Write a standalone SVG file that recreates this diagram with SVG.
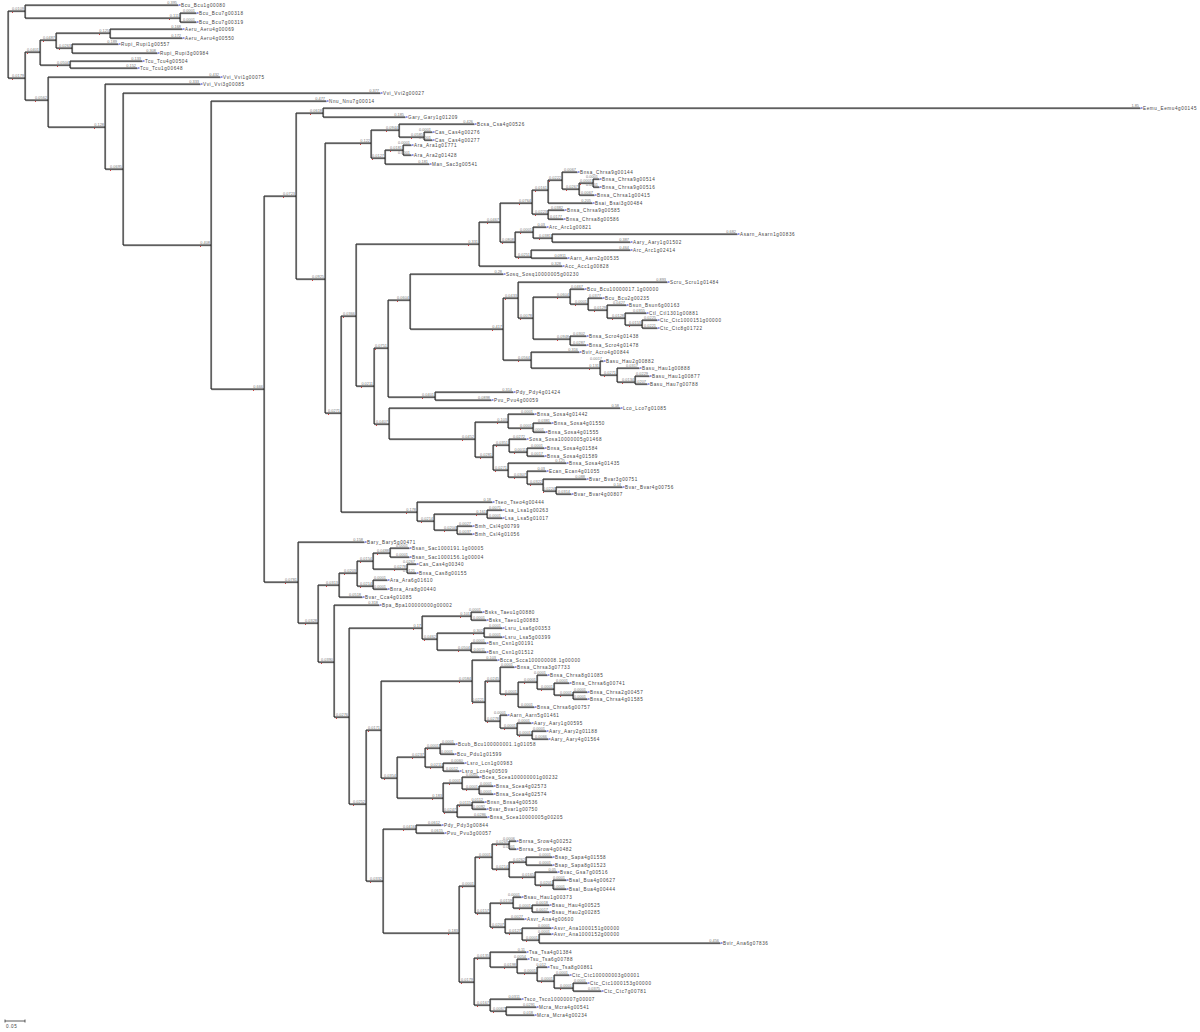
<svg xmlns="http://www.w3.org/2000/svg" xmlns:xlink="http://www.w3.org/1999/xlink" width="1200" height="1032" viewBox="0 0 1200 1032">
<style>
.e{fill:none;stroke:#1e1e1e;stroke-width:1}
.s{fill:none;stroke:#a0a0a0;stroke-width:1.1}
.lf{font-family:"Liberation Sans",Arial,sans-serif;font-size:4.6px;letter-spacing:.6px;fill:#444}
.bl{font-family:"Liberation Sans",Arial,sans-serif;font-size:3.9px;fill:#777;text-anchor:end}
.bm{stroke:#2233cc;stroke-width:1;fill:none}
.rd{fill:#d04040}
</style>
<defs>
<path id="tree" d="M8 11V78 M8 11H25 M25 5V18 M25 5H178 M25 18H180 M180 13V22 M180 13H196 M180 22H196
M8 78H25 M25 52V100
M25 52H40 M40 40V65 M40 40H56 M56 33V48 M56 33H110 M110 29V38 M110 29H182 M110 38H182 M56 48H72 M72 44V53 M72 44H118 M72 53H157 M40 65H70 M70 61V68 M70 61H142 M70 68H137
M25 100H48 M48 77V127 M48 77H220 M48 127H105 M105 84V169 M105 84H200 M105 169H123 M123 93V245 M123 93H380 M123 245H211 M211 101V389 M211 101H326 M211 389H264 M264 196V582
M264 196H296 M296 113V279 M296 113H323 M323 108V117 M323 108H1140 M323 117H405
M296 279H325 M325 143V413
M325 143H371 M371 130V158 M371 130H399 M399 124V137 M399 124H474 M399 137H424 M424 132V140 M424 132H432 M424 140H432 M371 158H385 M385 150V164 M385 150H403 M403 145V155 M403 145H411 M403 155H411 M385 164H429
M325 413H341 M341 316V512
M341 316H356 M356 244V386
M356 244H479 M479 222V266 M479 222H500 M500 203V242 M500 203H532 M532 190V214 M532 190H548 M548 180V203 M548 180H562 M562 172V189 M562 172H577 M562 189H579 M579 183V195 M579 183H593 M593 179V187 M593 179H599 M593 187H599 M579 195H594 M548 203H592 M532 214H548 M548 210V219 M548 210H564 M548 219H563
M500 242H515 M515 232V257 M515 232H533 M533 227V238 M533 227H546 M533 238H552 M552 234V242 M552 234H737 M552 242H630 M515 257H531 M531 250V258 M531 250H630 M531 258H567 M479 266H562
M356 386H374 M374 348V424
M374 348H388 M388 300V397 M388 300H410 M410 274V329 M410 274H503 M410 329H503 M503 298V360
M503 298H518 M518 282V318 M518 282H667 M518 318H533 M533 297V339 M533 297H570 M570 289V304 M570 289H584 M570 304H588 M588 298V310 M588 298H602 M588 310H607 M607 305V318 M607 305H626 M607 318H625 M625 313V325 M625 313H646 M625 325H642 M642 320V328 M642 320H657 M642 328H657 M533 339H570 M570 336V345 M570 336H586 M570 345H586
M503 360H531 M531 352V368 M531 352H579 M531 368H600 M600 361V375 M600 361H603 M600 375H617 M617 368V382 M617 368H639 M617 382H635 M635 376V384 M635 376H649 M635 384H647
M388 397H435 M435 392V400 M435 392H513 M435 400H491
M374 424H389 M389 408V439 M389 408H620 M389 439H475 M475 422V457 M475 422H508 M508 414V428 M508 414H534 M508 428H533 M533 423V432 M533 423H551 M533 432H545
M475 457H493 M493 445V470 M493 445H509 M509 439V452 M509 439H526 M509 452H527 M527 448V456 M527 448H544 M527 456H544 M493 470H508 M508 463V477 M508 463H566 M508 477H527 M527 471V484 M527 471H546 M527 484H543 M543 479V491 M543 479H586 M543 491H556 M556 487V494 M556 487H622 M556 494H571
M341 512H417 M417 502V521 M417 502H492 M417 521H434 M434 514V530 M434 514H487 M487 510V518 M487 510H502 M487 518H502 M434 530H457 M457 526V534 M457 526H472 M457 534H472
M264 582H298 M298 542V623 M298 542H364 M298 623H318 M318 585V662
M318 585H339 M339 573V597 M339 573H357 M357 561V586 M357 561H373 M373 553V569 M373 553H390 M390 548V557 M390 548H409 M390 557H409 M373 569H407 M407 564V573 M407 564H416 M407 573H416 M357 586H373 M373 580V589 M373 580H387 M373 589H387 M339 597H362
M318 662H334 M334 605V717 M334 605H379 M334 717H349 M349 628V804
M349 628H422 M422 616V639 M422 616H471 M471 612V620 M471 612H482 M471 620H486 M422 639H437 M437 633V650 M437 633H484 M484 628V637 M484 628H502 M484 637H502 M437 650H471 M471 643V652 M471 643H486 M471 652H486
M349 804H366 M366 730V881
M366 730H381 M381 681V778 M381 681H472 M472 660V702 M472 660H497 M472 702H485 M485 681V721 M485 681H500 M500 667V694 M500 667H514 M500 694H518 M518 682V707 M518 682H537 M537 675V689 M537 675H547 M537 689H554 M554 683V695 M554 683H569 M554 695H573 M573 692V699 M573 692H587 M573 699H587 M518 707H534 M485 721H500 M500 715V728 M500 715H507 M500 728H517 M517 723V735 M517 723H531 M517 735H532 M532 731V739 M532 731H546 M532 739H548
M381 778H397 M397 757V798 M397 757H425 M425 748V767 M425 748H440 M440 744V754 M440 744H455 M440 754H454 M425 767H443 M443 763V771 M443 763H464 M443 771H459 M397 798H443 M443 783V812 M443 783H462 M462 777V789 M462 777H479 M462 789H479 M479 786V794 M479 786H493 M479 794H493 M443 812H457 M457 805V817 M457 805H472 M472 802V809 M472 802H484 M472 809H486 M457 817H487
M366 881H383 M383 829V933 M383 829H416 M416 825V833 M416 825H441 M416 833H444 M383 933H459 M459 886V982
M459 886H475 M475 857V913 M475 857H492 M492 844V869 M492 844H509 M509 841V849 M509 841H516 M509 849H516 M492 869H509 M509 862V877 M509 862H526 M526 857V865 M526 857H552 M526 865H552 M509 877H535 M535 872V885 M535 872H557 M535 885H553 M553 880V889 M553 880H566 M553 889H566
M475 913H490 M490 903V927 M490 903H513 M513 897V908 M513 897H521 M513 908H532 M532 905V912 M532 905H549 M532 912H549 M490 927H505 M505 919V933 M505 919H524 M505 933H522 M522 928V940 M522 928H551 M522 940H539 M539 934V943 M539 934H551 M539 943H720
M459 982H474 M474 958V1005 M474 958H490 M490 952V967 M490 952H526 M490 967H517 M517 959V973 M517 959H527 M517 973H537 M537 967V981 M537 967H547 M537 981H554 M554 975V988 M554 975H569 M554 988H573 M573 983V991 M573 983H587 M573 991H601 M474 1005H490 M490 999V1011 M490 999H521 M490 1011H506 M506 1007V1015 M506 1007H536 M506 1015H534"/>
</defs>
<rect width="1200" height="1032" fill="#ffffff"/>
<g id="connectors">
<use xlink:href="#tree" href="#tree" class="s" transform="translate(0.6,0.6)"/>
<use xlink:href="#tree" href="#tree" class="e"/>
</g>
<g id="node-dots" class="rd"><path d="M12 12h1v1h-1z M169 19h1v1h-1z M12 79h1v1h-1z M27 53h1v1h-1z M43 41h1v1h-1z M99 34h1v1h-1z M59 49h1v1h-1z M57 66h1v1h-1z M35 101h1v1h-1z M94 128h1v1h-1z M110 170h1v1h-1z M200 246h1v1h-1z M253 390h1v1h-1z M283 197h1v1h-1z M310 114h1v1h-1z M312 280h1v1h-1z M360 144h1v1h-1z M386 131h1v1h-1z M411 138h1v1h-1z M372 159h1v1h-1z M390 151h1v1h-1z M328 414h1v1h-1z M343 317h1v1h-1z M468 245h1v1h-1z M487 223h1v1h-1z M519 204h1v1h-1z M535 191h1v1h-1z M549 181h1v1h-1z M566 190h1v1h-1z M580 184h1v1h-1z M535 215h1v1h-1z M502 243h1v1h-1z M520 233h1v1h-1z M539 239h1v1h-1z M518 258h1v1h-1z M361 387h1v1h-1z M375 349h1v1h-1z M397 301h1v1h-1z M492 330h1v1h-1z M505 299h1v1h-1z M520 319h1v1h-1z M557 298h1v1h-1z M575 305h1v1h-1z M594 311h1v1h-1z M612 319h1v1h-1z M629 326h1v1h-1z M557 340h1v1h-1z M518 361h1v1h-1z M589 369h1v1h-1z M604 376h1v1h-1z M622 383h1v1h-1z M422 398h1v1h-1z M376 425h1v1h-1z M462 440h1v1h-1z M497 423h1v1h-1z M520 429h1v1h-1z M480 458h1v1h-1z M496 446h1v1h-1z M514 453h1v1h-1z M495 471h1v1h-1z M514 478h1v1h-1z M530 485h1v1h-1z M543 492h1v1h-1z M406 513h1v1h-1z M421 522h1v1h-1z M476 515h1v1h-1z M444 531h1v1h-1z M285 583h1v1h-1z M305 624h1v1h-1z M326 586h1v1h-1z M344 574h1v1h-1z M360 562h1v1h-1z M377 554h1v1h-1z M394 570h1v1h-1z M360 587h1v1h-1z M321 663h1v1h-1z M336 718h1v1h-1z M413 629h1v1h-1z M460 617h1v1h-1z M424 640h1v1h-1z M473 634h1v1h-1z M458 651h1v1h-1z M353 805h1v1h-1z M368 731h1v1h-1z M459 682h1v1h-1z M472 703h1v1h-1z M487 682h1v1h-1z M505 695h1v1h-1z M524 683h1v1h-1z M541 690h1v1h-1z M560 696h1v1h-1z M487 722h1v1h-1z M504 729h1v1h-1z M519 736h1v1h-1z M384 779h1v1h-1z M412 758h1v1h-1z M427 749h1v1h-1z M430 768h1v1h-1z M432 799h1v1h-1z M449 784h1v1h-1z M466 790h1v1h-1z M444 813h1v1h-1z M459 806h1v1h-1z M370 882h1v1h-1z M403 830h1v1h-1z M448 934h1v1h-1z M462 887h1v1h-1z M479 858h1v1h-1z M496 845h1v1h-1z M496 870h1v1h-1z M513 863h1v1h-1z M522 878h1v1h-1z M540 886h1v1h-1z M477 914h1v1h-1z M500 904h1v1h-1z M519 909h1v1h-1z M492 928h1v1h-1z M509 934h1v1h-1z M526 941h1v1h-1z M461 983h1v1h-1z M477 959h1v1h-1z M504 968h1v1h-1z M524 974h1v1h-1z M541 982h1v1h-1z M560 989h1v1h-1z M477 1006h1v1h-1z M493 1012h1v1h-1z"/></g>
<g id="branch-labels" class="bl">
<text x="24" y="10.2">0.0109</text><text x="179" y="17.2">0.111</text><text x="24" y="77.2">0.0179</text><text x="39" y="51.2">0.0401</text><text x="55" y="39.2">0.0487</text><text x="109" y="32.2">0.125</text><text x="71" y="47.2">0.0263</text><text x="69" y="64.2">0.0504</text><text x="47" y="99.2">0.0562</text><text x="104" y="126.2">0.128</text><text x="122" y="168.2">0.0695</text><text x="210" y="244.2">0.408</text><text x="263" y="388.2">0.666</text><text x="295" y="195.2">0.0723</text><text x="322" y="112.2">0.0618</text><text x="324" y="278.2">0.0925</text><text x="370" y="142.2">0.122</text><text x="398" y="129.2">0.0944</text><text x="423" y="136.2">0.0585</text><text x="384" y="157.2">0.0127</text><text x="402" y="149.2">0.0181</text><text x="340" y="412.2">0.0271</text><text x="355" y="315.2">0.0366</text><text x="478" y="243.2">0.331</text><text x="499" y="221.2">0.0467</text><text x="531" y="202.2">0.0764</text><text x="547" y="189.2">0.0161</text><text x="561" y="179.2">0.0222</text><text x="578" y="188.2">0.0267</text><text x="592" y="182.2">0.0001</text><text x="547" y="213.2">0.0223</text><text x="514" y="241.2">0.0808</text><text x="532" y="231.2">0.0001</text><text x="551" y="237.2">0.0381</text><text x="530" y="256.2">0.0251</text><text x="373" y="385.2">0.0211</text><text x="387" y="347.2">0.0751</text><text x="409" y="299.2">0.0604</text><text x="502" y="328.2">0.417</text><text x="517" y="297.2">0.0433</text><text x="532" y="317.2">0.0078</text><text x="569" y="296.2">0.0604</text><text x="587" y="303.2">0.0001</text><text x="606" y="309.2">0.0129</text><text x="624" y="317.2">0.0128</text><text x="641" y="324.2">0.0153</text><text x="569" y="338.2">0.0948</text><text x="530" y="359.2">0.0564</text><text x="599" y="367.2">0.131</text><text x="616" y="374.2">0.0271</text><text x="634" y="381.2">0.0134</text><text x="434" y="396.2">0.0401</text><text x="388" y="423.2">0.0407</text><text x="474" y="438.2">0.0452</text><text x="507" y="421.2">0.103</text><text x="532" y="427.2">0.0001</text><text x="492" y="456.2">0.0281</text><text x="508" y="444.2">0.0351</text><text x="526" y="451.2">0.0011</text><text x="507" y="469.2">0.0271</text><text x="526" y="476.2">0.0307</text><text x="542" y="483.2">0.0322</text><text x="555" y="490.2">0.0224</text><text x="416" y="511.2">0.178</text><text x="433" y="520.2">0.0214</text><text x="486" y="513.2">0.161</text><text x="456" y="529.2">0.0204</text><text x="297" y="581.2">0.0781</text><text x="317" y="622.2">0.0328</text><text x="338" y="584.2">0.0313</text><text x="356" y="572.2">0.0203</text><text x="372" y="560.2">0.0154</text><text x="389" y="552.2">0.0488</text><text x="406" y="568.2">0.0278</text><text x="372" y="585.2">0.0214</text><text x="333" y="661.2">0.0390</text><text x="348" y="716.2">0.0276</text><text x="421" y="627.2">0.17</text><text x="470" y="615.2">0.101</text><text x="436" y="638.2">0.0462</text><text x="483" y="632.2">0.302</text><text x="470" y="649.2">0.0504</text><text x="365" y="803.2">0.0252</text><text x="380" y="729.2">0.0171</text><text x="471" y="680.2">0.0584</text><text x="484" y="701.2">0.0221</text><text x="499" y="680.2">0.0245</text><text x="517" y="693.2">0.0001</text><text x="536" y="681.2">0.0001</text><text x="553" y="688.2">0.0001</text><text x="572" y="694.2">0.0001</text><text x="499" y="720.2">0.0278</text><text x="516" y="727.2">0.0001</text><text x="531" y="734.2">0.0001</text><text x="396" y="777.2">0.0354</text><text x="424" y="756.2">0.0237</text><text x="439" y="747.2">0.0001</text><text x="442" y="766.2">0.0211</text><text x="442" y="797.2">0.183</text><text x="461" y="782.2">0.0001</text><text x="478" y="788.2">0.0001</text><text x="456" y="811.2">0.0247</text><text x="471" y="804.2">0.0115</text><text x="382" y="880.2">0.0332</text><text x="415" y="828.2">0.0416</text><text x="458" y="932.2">0.183</text><text x="474" y="885.2">0.0001</text><text x="491" y="856.2">0.0001</text><text x="508" y="843.2">0.0269</text><text x="508" y="868.2">0.0214</text><text x="525" y="861.2">0.0262</text><text x="534" y="876.2">0.0165</text><text x="552" y="884.2">0.0201</text><text x="489" y="912.2">0.0157</text><text x="512" y="902.2">0.0159</text><text x="531" y="907.2">0.0001</text><text x="504" y="926.2">0.0207</text><text x="521" y="932.2">0.0127</text><text x="538" y="939.2">0.0001</text><text x="473" y="981.2">0.0179</text><text x="489" y="957.2">0.0135</text><text x="516" y="966.2">0.0198</text><text x="536" y="972.2">0.0001</text><text x="553" y="980.2">0.0001</text><text x="572" y="987.2">0.0001</text><text x="489" y="1004.2">0.0167</text><text x="505" y="1010.2">0.0067</text>
</g>
<g id="leaves">
<g id="t1"><text class="bl" x="177" y="4.2">0.395</text><path class="bm" d="M178.5 5h2"/><text class="lf" x="181" y="6.7">Bcu_Bcu1g00080</text></g>
<g id="t2"><text class="bl" x="195" y="12.2">0.0001</text><path class="bm" d="M196.5 13h2"/><text class="lf" x="199" y="14.7">Bcu_Bcu7g00318</text></g>
<g id="t3"><text class="bl" x="195" y="21.2">0.0001</text><path class="bm" d="M196.5 22h2"/><text class="lf" x="199" y="23.7">Bcu_Bcu7g00319</text></g>
<g id="t4"><text class="bl" x="181" y="28.2">0.168</text><path class="bm" d="M182.5 29h2"/><text class="lf" x="185" y="30.7">Aeru_Aeru4g00069</text></g>
<g id="t5"><text class="bl" x="181" y="37.2">0.172</text><path class="bm" d="M182.5 38h2"/><text class="lf" x="185" y="39.7">Aeru_Aeru4g00550</text></g>
<g id="t6"><text class="bl" x="117" y="43.2">0.189</text><path class="bm" d="M118.5 44h2"/><text class="lf" x="121" y="45.7">Rupi_Rupi1g00557</text></g>
<g id="t7"><text class="bl" x="156" y="52.2">0.308</text><path class="bm" d="M157.5 53h2"/><text class="lf" x="160" y="54.7">Rupi_Rupi3g00984</text></g>
<g id="t8"><text class="bl" x="141" y="60.2">0.133</text><path class="bm" d="M142.5 61h2"/><text class="lf" x="145" y="62.7">Tcu_Tcu4g00504</text></g>
<g id="t9"><text class="bl" x="136" y="67.2">0.152</text><path class="bm" d="M137.5 68h2"/><text class="lf" x="140" y="69.7">Tcu_Tcu1g00648</text></g>
<g id="t10"><text class="bl" x="219" y="76.2">0.432</text><path class="bm" d="M220.5 77h2"/><text class="lf" x="223" y="78.7">Vvi_Vvi1g00075</text></g>
<g id="t11"><text class="bl" x="199" y="83.2">0.333</text><path class="bm" d="M200.5 84h2"/><text class="lf" x="203" y="85.7">Vvi_Vvi3g00085</text></g>
<g id="t12"><text class="bl" x="379" y="92.2">0.377</text><path class="bm" d="M380.5 93h2"/><text class="lf" x="383" y="94.7">Vvi_Vvi2g00027</text></g>
<g id="t13"><text class="bl" x="325" y="100.2">0.477</text><path class="bm" d="M326.5 101h2"/><text class="lf" x="329" y="102.7">Nnu_Nnu7g00014</text></g>
<g id="t14"><text class="bl" x="1139" y="107.2">1.85</text><path class="bm" d="M1140.5 108h2"/><text class="lf" x="1143" y="109.7">Eemu_Eemu4g00145</text></g>
<g id="t15"><text class="bl" x="404" y="116.2">0.185</text><path class="bm" d="M405.5 117h2"/><text class="lf" x="408" y="118.7">Gary_Gary1g01209</text></g>
<g id="t16"><text class="bl" x="473" y="123.2">0.426</text><path class="bm" d="M474.5 124h2"/><text class="lf" x="477" y="125.7">Bcsa_Csa4g00526</text></g>
<g id="t17"><text class="bl" x="431" y="131.2">0.0001</text><path class="bm" d="M432.5 132h2"/><text class="lf" x="435" y="133.7">Cas_Cas4g00276</text></g>
<g id="t18"><text class="bl" x="431" y="139.2">0.0001</text><path class="bm" d="M432.5 140h2"/><text class="lf" x="435" y="141.7">Cas_Cas4g00277</text></g>
<g id="t19"><text class="bl" x="410" y="144.2">0.0001</text><path class="bm" d="M411.5 145h2"/><text class="lf" x="414" y="146.7">Ara_Ara1g01771</text></g>
<g id="t20"><text class="bl" x="410" y="154.2">0.0001</text><path class="bm" d="M411.5 155h2"/><text class="lf" x="414" y="156.7">Ara_Ara2g01428</text></g>
<g id="t21"><text class="bl" x="428" y="163.2">0.181</text><path class="bm" d="M429.5 164h2"/><text class="lf" x="432" y="165.7">Man_Sac3g00541</text></g>
<g id="t22"><text class="bl" x="576" y="171.2">0.0067</text><path class="bm" d="M577.5 172h2"/><text class="lf" x="580" y="173.7">Bnsa_Chrsa9g00144</text></g>
<g id="t23"><text class="bl" x="598" y="178.2">0.0001</text><path class="bm" d="M599.5 179h2"/><text class="lf" x="602" y="180.7">Bnsa_Chrsa9g00514</text></g>
<g id="t24"><text class="bl" x="598" y="186.2">0.0001</text><path class="bm" d="M599.5 187h2"/><text class="lf" x="602" y="188.7">Bnsa_Chrsa9g00516</text></g>
<g id="t25"><text class="bl" x="593" y="194.2">0.0067</text><path class="bm" d="M594.5 195h2"/><text class="lf" x="597" y="196.7">Bnsa_Chrsa1g00415</text></g>
<g id="t26"><text class="bl" x="591" y="202.2">0.205</text><path class="bm" d="M592.5 203h2"/><text class="lf" x="595" y="204.7">Bsai_Bsai3g00484</text></g>
<g id="t27"><text class="bl" x="563" y="209.2">0.0382</text><path class="bm" d="M564.5 210h2"/><text class="lf" x="567" y="211.7">Bnsa_Chrsa9g00585</text></g>
<g id="t28"><text class="bl" x="562" y="218.2">0.0177</text><path class="bm" d="M563.5 219h2"/><text class="lf" x="566" y="220.7">Bnsa_Chrsa8g00586</text></g>
<g id="t29"><text class="bl" x="545" y="226.2">0.03</text><path class="bm" d="M546.5 227h2"/><text class="lf" x="549" y="228.7">Arc_Arc1g00821</text></g>
<g id="t30"><text class="bl" x="736" y="233.2">0.682</text><path class="bm" d="M737.5 234h2"/><text class="lf" x="740" y="235.7">Asarn_Asarn1g00836</text></g>
<g id="t31"><text class="bl" x="629" y="241.2">0.387</text><path class="bm" d="M630.5 242h2"/><text class="lf" x="633" y="243.7">Aary_Aary1g01502</text></g>
<g id="t32"><text class="bl" x="629" y="249.2">0.464</text><path class="bm" d="M630.5 250h2"/><text class="lf" x="633" y="251.7">Arc_Arc1g02414</text></g>
<g id="t33"><text class="bl" x="566" y="257.2">0.0911</text><path class="bm" d="M567.5 258h2"/><text class="lf" x="570" y="259.7">Aarn_Aarn2g00535</text></g>
<g id="t34"><text class="bl" x="561" y="265.2">0.328</text><path class="bm" d="M562.5 266h2"/><text class="lf" x="565" y="267.7">Acc_Acc1g00828</text></g>
<g id="t35"><text class="bl" x="502" y="273.2">0.28</text><path class="bm" d="M503.5 274h2"/><text class="lf" x="506" y="275.7">Sosq_Sosq10000005g00230</text></g>
<g id="t36"><text class="bl" x="666" y="281.2">0.893</text><path class="bm" d="M667.5 282h2"/><text class="lf" x="670" y="283.7">Scru_Scru1g01484</text></g>
<g id="t37"><text class="bl" x="583" y="288.2">0.0467</text><path class="bm" d="M584.5 289h2"/><text class="lf" x="587" y="290.7">Bcu_Bcu10000017.1g00000</text></g>
<g id="t38"><text class="bl" x="601" y="297.2">0.0377</text><path class="bm" d="M602.5 298h2"/><text class="lf" x="605" y="299.7">Bcu_Bcu2g00235</text></g>
<g id="t39"><text class="bl" x="625" y="304.2">0.0427</text><path class="bm" d="M626.5 305h2"/><text class="lf" x="629" y="306.7">Bsun_Bsun6g00163</text></g>
<g id="t40"><text class="bl" x="645" y="312.2">0.0355</text><path class="bm" d="M646.5 313h2"/><text class="lf" x="649" y="314.7">Ctl_Ctl1301g00881</text></g>
<g id="t41"><text class="bl" x="656" y="319.2">0.0225</text><path class="bm" d="M657.5 320h2"/><text class="lf" x="660" y="321.7">Ctc_Ctc1000151g00000</text></g>
<g id="t42"><text class="bl" x="656" y="327.2">0.0221</text><path class="bm" d="M657.5 328h2"/><text class="lf" x="660" y="329.7">Ctc_Ctc8g01722</text></g>
<g id="t43"><text class="bl" x="585" y="335.2">0.0302</text><path class="bm" d="M586.5 336h2"/><text class="lf" x="589" y="337.7">Bnsa_Scro4g01438</text></g>
<g id="t44"><text class="bl" x="585" y="344.2">0.0287</text><path class="bm" d="M586.5 345h2"/><text class="lf" x="589" y="346.7">Bnsa_Scro4g01478</text></g>
<g id="t45"><text class="bl" x="578" y="351.2">0.316</text><path class="bm" d="M579.5 352h2"/><text class="lf" x="582" y="353.7">Bvir_Acro4g00844</text></g>
<g id="t46"><text class="bl" x="602" y="360.2">0.0017</text><path class="bm" d="M603.5 361h2"/><text class="lf" x="606" y="362.7">Basu_Hau2g00882</text></g>
<g id="t47"><text class="bl" x="638" y="367.2">0.0317</text><path class="bm" d="M639.5 368h2"/><text class="lf" x="642" y="369.7">Basu_Hau1g00888</text></g>
<g id="t48"><text class="bl" x="648" y="375.2">0.0229</text><path class="bm" d="M649.5 376h2"/><text class="lf" x="652" y="377.7">Basu_Hau1g00877</text></g>
<g id="t49"><text class="bl" x="646" y="383.2">0.0207</text><path class="bm" d="M647.5 384h2"/><text class="lf" x="650" y="385.7">Basu_Hau7g00788</text></g>
<g id="t50"><text class="bl" x="512" y="391.2">0.314</text><path class="bm" d="M513.5 392h2"/><text class="lf" x="516" y="393.7">Pdy_Pdy4g01424</text></g>
<g id="t51"><text class="bl" x="490" y="399.2">0.0898</text><path class="bm" d="M491.5 400h2"/><text class="lf" x="494" y="401.7">Pvu_Pvu4g00059</text></g>
<g id="t52"><text class="bl" x="619" y="407.2">0.58</text><path class="bm" d="M620.5 408h2"/><text class="lf" x="623" y="409.7">Lco_Lco7g01085</text></g>
<g id="t53"><text class="bl" x="533" y="413.2">0.0001</text><path class="bm" d="M534.5 414h2"/><text class="lf" x="537" y="415.7">Bnsa_Sosa4g01442</text></g>
<g id="t54"><text class="bl" x="550" y="422.2">0.0381</text><path class="bm" d="M551.5 423h2"/><text class="lf" x="554" y="424.7">Bnsa_Sosa4g01550</text></g>
<g id="t55"><text class="bl" x="544" y="431.2">0.0001</text><path class="bm" d="M545.5 432h2"/><text class="lf" x="548" y="433.7">Bnsa_Sosa4g01555</text></g>
<g id="t56"><text class="bl" x="525" y="438.2">0.0272</text><path class="bm" d="M526.5 439h2"/><text class="lf" x="529" y="440.7">Sosa_Sosa10000005g01468</text></g>
<g id="t57"><text class="bl" x="543" y="447.2">0.0001</text><path class="bm" d="M544.5 448h2"/><text class="lf" x="547" y="449.7">Bnsa_Sosa4g01584</text></g>
<g id="t58"><text class="bl" x="543" y="455.2">0.0017</text><path class="bm" d="M544.5 456h2"/><text class="lf" x="547" y="457.7">Bnsa_Sosa4g01589</text></g>
<g id="t59"><text class="bl" x="565" y="462.2">0.125</text><path class="bm" d="M566.5 463h2"/><text class="lf" x="569" y="464.7">Bnsa_Sosa4g01435</text></g>
<g id="t60"><text class="bl" x="545" y="470.2">0.03</text><path class="bm" d="M546.5 471h2"/><text class="lf" x="549" y="472.7">Ecan_Ecan4g01055</text></g>
<g id="t61"><text class="bl" x="585" y="478.2">0.088</text><path class="bm" d="M586.5 479h2"/><text class="lf" x="589" y="480.7">Bvar_Bvar3g00751</text></g>
<g id="t62"><text class="bl" x="621" y="486.2">0.14</text><path class="bm" d="M622.5 487h2"/><text class="lf" x="625" y="488.7">Bvar_Bvar4g00756</text></g>
<g id="t63"><text class="bl" x="570" y="493.2">0.0314</text><path class="bm" d="M571.5 494h2"/><text class="lf" x="574" y="495.7">Bvar_Bvar4g00807</text></g>
<g id="t64"><text class="bl" x="491" y="501.2">0.18</text><path class="bm" d="M492.5 502h2"/><text class="lf" x="495" y="503.7">Tseo_Tseo4g00444</text></g>
<g id="t65"><text class="bl" x="501" y="509.2">0.0071</text><path class="bm" d="M502.5 510h2"/><text class="lf" x="505" y="511.7">Lsa_Lsa1g00263</text></g>
<g id="t66"><text class="bl" x="501" y="517.2">0.0001</text><path class="bm" d="M502.5 518h2"/><text class="lf" x="505" y="519.7">Lsa_Lsa5g01017</text></g>
<g id="t67"><text class="bl" x="471" y="525.2">0.0027</text><path class="bm" d="M472.5 526h2"/><text class="lf" x="475" y="527.7">Bmh_Csl4g00799</text></g>
<g id="t68"><text class="bl" x="471" y="533.2">0.0037</text><path class="bm" d="M472.5 534h2"/><text class="lf" x="475" y="535.7">Bmh_Csl4g01056</text></g>
<g id="t69"><text class="bl" x="363" y="541.2">0.158</text><path class="bm" d="M364.5 542h2"/><text class="lf" x="367" y="543.7">Bary_Bary5g00471</text></g>
<g id="t70"><text class="bl" x="408" y="547.2">0.0001</text><path class="bm" d="M409.5 548h2"/><text class="lf" x="412" y="549.7">Bsan_Sac1000191.1g00005</text></g>
<g id="t71"><text class="bl" x="408" y="556.2">0.0001</text><path class="bm" d="M409.5 557h2"/><text class="lf" x="412" y="558.7">Bsan_Sac1000156.1g00004</text></g>
<g id="t72"><text class="bl" x="415" y="563.2">0.0267</text><path class="bm" d="M416.5 564h2"/><text class="lf" x="419" y="565.7">Cas_Cas4g00340</text></g>
<g id="t73"><text class="bl" x="415" y="572.2">0.0121</text><path class="bm" d="M416.5 573h2"/><text class="lf" x="419" y="574.7">Bnsa_Cas8g00155</text></g>
<g id="t74"><text class="bl" x="386" y="579.2">0.0001</text><path class="bm" d="M387.5 580h2"/><text class="lf" x="390" y="581.7">Ara_Ara6g01610</text></g>
<g id="t75"><text class="bl" x="386" y="588.2">0.0001</text><path class="bm" d="M387.5 589h2"/><text class="lf" x="390" y="590.7">Bnra_Ara8g00440</text></g>
<g id="t76"><text class="bl" x="361" y="596.2">0.0518</text><path class="bm" d="M362.5 597h2"/><text class="lf" x="365" y="598.7">Bvar_Cca4g01085</text></g>
<g id="t77"><text class="bl" x="378" y="604.2">0.318</text><path class="bm" d="M379.5 605h2"/><text class="lf" x="382" y="606.7">Bpa_Bpa100000000g00002</text></g>
<g id="t78"><text class="bl" x="481" y="611.2">0.0001</text><path class="bm" d="M482.5 612h2"/><text class="lf" x="485" y="613.7">Bsks_Taeu1g00880</text></g>
<g id="t79"><text class="bl" x="485" y="619.2">0.0001</text><path class="bm" d="M486.5 620h2"/><text class="lf" x="489" y="621.7">Bsks_Taeu1g00883</text></g>
<g id="t80"><text class="bl" x="501" y="627.2">0.0001</text><path class="bm" d="M502.5 628h2"/><text class="lf" x="505" y="629.7">Lsru_Lsa6g00353</text></g>
<g id="t81"><text class="bl" x="501" y="636.2">0.0001</text><path class="bm" d="M502.5 637h2"/><text class="lf" x="505" y="638.7">Lsru_Lsa5g00399</text></g>
<g id="t82"><text class="bl" x="485" y="642.2">0.0001</text><path class="bm" d="M486.5 643h2"/><text class="lf" x="489" y="644.7">Bsn_Csn1g00191</text></g>
<g id="t83"><text class="bl" x="485" y="651.2">0.0011</text><path class="bm" d="M486.5 652h2"/><text class="lf" x="489" y="653.7">Bsn_Csn1g01512</text></g>
<g id="t84"><text class="bl" x="496" y="659.2">0.103</text><path class="bm" d="M497.5 660h2"/><text class="lf" x="500" y="661.7">Bcca_Scca100000008.1g00000</text></g>
<g id="t85"><text class="bl" x="513" y="666.2">0.0001</text><path class="bm" d="M514.5 667h2"/><text class="lf" x="517" y="668.7">Bnsa_Chrsa3g07733</text></g>
<g id="t86"><text class="bl" x="546" y="674.2">0.0001</text><path class="bm" d="M547.5 675h2"/><text class="lf" x="550" y="676.7">Bnsa_Chrsa8g01085</text></g>
<g id="t87"><text class="bl" x="568" y="682.2">0.0001</text><path class="bm" d="M569.5 683h2"/><text class="lf" x="572" y="684.7">Bnsa_Chrsa6g00741</text></g>
<g id="t88"><text class="bl" x="586" y="691.2">0.0001</text><path class="bm" d="M587.5 692h2"/><text class="lf" x="590" y="693.7">Bnsa_Chrsa2g00457</text></g>
<g id="t89"><text class="bl" x="586" y="698.2">0.0001</text><path class="bm" d="M587.5 699h2"/><text class="lf" x="590" y="700.7">Bnsa_Chrsa4g01585</text></g>
<g id="t90"><text class="bl" x="533" y="706.2">0.0001</text><path class="bm" d="M534.5 707h2"/><text class="lf" x="537" y="708.7">Bnsa_Chrsa6g00757</text></g>
<g id="t91"><text class="bl" x="506" y="714.2">0.0001</text><path class="bm" d="M507.5 715h2"/><text class="lf" x="510" y="716.7">Aarn_Aarn5g01461</text></g>
<g id="t92"><text class="bl" x="530" y="722.2">0.0001</text><path class="bm" d="M531.5 723h2"/><text class="lf" x="534" y="724.7">Aary_Aary1g00595</text></g>
<g id="t93"><text class="bl" x="545" y="730.2">0.0001</text><path class="bm" d="M546.5 731h2"/><text class="lf" x="549" y="732.7">Aary_Aary2g01188</text></g>
<g id="t94"><text class="bl" x="547" y="738.2">0.0066</text><path class="bm" d="M548.5 739h2"/><text class="lf" x="551" y="740.7">Aary_Aary4g01564</text></g>
<g id="t95"><text class="bl" x="454" y="743.2">0.0001</text><path class="bm" d="M455.5 744h2"/><text class="lf" x="458" y="745.7">Bcub_Bcu100000001.1g01058</text></g>
<g id="t96"><text class="bl" x="453" y="753.2">0.0001</text><path class="bm" d="M454.5 754h2"/><text class="lf" x="457" y="755.7">Bcu_Pdu1g01599</text></g>
<g id="t97"><text class="bl" x="463" y="762.2">0.0060</text><path class="bm" d="M464.5 763h2"/><text class="lf" x="467" y="764.7">Lsro_Lcn1g00983</text></g>
<g id="t98"><text class="bl" x="458" y="770.2">0.0012</text><path class="bm" d="M459.5 771h2"/><text class="lf" x="462" y="772.7">Lsro_Lcn4g00509</text></g>
<g id="t99"><text class="bl" x="478" y="776.2">0.0001</text><path class="bm" d="M479.5 777h2"/><text class="lf" x="482" y="778.7">Bcea_Scea100000001g00232</text></g>
<g id="t100"><text class="bl" x="492" y="785.2">0.0001</text><path class="bm" d="M493.5 786h2"/><text class="lf" x="496" y="787.7">Bnsa_Scea4g02573</text></g>
<g id="t101"><text class="bl" x="492" y="793.2">0.0001</text><path class="bm" d="M493.5 794h2"/><text class="lf" x="496" y="795.7">Bnsa_Scea4g02574</text></g>
<g id="t102"><text class="bl" x="483" y="801.2">0.0112</text><path class="bm" d="M484.5 802h2"/><text class="lf" x="487" y="803.7">Bnsn_Bnsa4g00536</text></g>
<g id="t103"><text class="bl" x="485" y="808.2">0.0092</text><path class="bm" d="M486.5 809h2"/><text class="lf" x="489" y="810.7">Bvar_Bvar1g00750</text></g>
<g id="t104"><text class="bl" x="486" y="816.2">0.0286</text><path class="bm" d="M487.5 817h2"/><text class="lf" x="490" y="818.7">Bnsa_Scea10000005g00205</text></g>
<g id="t105"><text class="bl" x="440" y="824.2">0.0612</text><path class="bm" d="M441.5 825h2"/><text class="lf" x="444" y="826.7">Pdy_Pdy3g00844</text></g>
<g id="t106"><text class="bl" x="443" y="832.2">0.0615</text><path class="bm" d="M444.5 833h2"/><text class="lf" x="447" y="834.7">Pvu_Pvu3g00057</text></g>
<g id="t107"><text class="bl" x="515" y="840.2">0.0006</text><path class="bm" d="M516.5 841h2"/><text class="lf" x="519" y="842.7">Bnrsa_Srow4g00252</text></g>
<g id="t108"><text class="bl" x="515" y="848.2">0.0001</text><path class="bm" d="M516.5 849h2"/><text class="lf" x="519" y="850.7">Bnrsa_Srow4g00482</text></g>
<g id="t109"><text class="bl" x="551" y="856.2">0.0001</text><path class="bm" d="M552.5 857h2"/><text class="lf" x="555" y="858.7">Bsap_Sapa4g01558</text></g>
<g id="t110"><text class="bl" x="551" y="864.2">0.0001</text><path class="bm" d="M552.5 865h2"/><text class="lf" x="555" y="866.7">Bsap_Sapa8g01523</text></g>
<g id="t111"><text class="bl" x="556" y="871.2">0.05</text><path class="bm" d="M557.5 872h2"/><text class="lf" x="560" y="873.7">Bvac_Gsa7g00516</text></g>
<g id="t112"><text class="bl" x="565" y="879.2">0.0001</text><path class="bm" d="M566.5 880h2"/><text class="lf" x="569" y="881.7">Bsal_Bua4g00627</text></g>
<g id="t113"><text class="bl" x="565" y="888.2">0.0001</text><path class="bm" d="M566.5 889h2"/><text class="lf" x="569" y="890.7">Bsal_Bua4g00444</text></g>
<g id="t114"><text class="bl" x="520" y="896.2">0.0001</text><path class="bm" d="M521.5 897h2"/><text class="lf" x="524" y="898.7">Bsau_Hau1g00373</text></g>
<g id="t115"><text class="bl" x="548" y="904.2">0.0018</text><path class="bm" d="M549.5 905h2"/><text class="lf" x="552" y="906.7">Bsau_Hau4g00525</text></g>
<g id="t116"><text class="bl" x="548" y="911.2">0.0017</text><path class="bm" d="M549.5 912h2"/><text class="lf" x="552" y="913.7">Bsau_Hau2g00285</text></g>
<g id="t117"><text class="bl" x="523" y="918.2">0.0027</text><path class="bm" d="M524.5 919h2"/><text class="lf" x="527" y="920.7">Asvr_Ana4g00600</text></g>
<g id="t118"><text class="bl" x="550" y="927.2">0.0001</text><path class="bm" d="M551.5 928h2"/><text class="lf" x="554" y="929.7">Asvr_Ana1000151g00000</text></g>
<g id="t119"><text class="bl" x="550" y="933.2">0.0001</text><path class="bm" d="M551.5 934h2"/><text class="lf" x="554" y="935.7">Asvr_Ana1000152g00000</text></g>
<g id="t120"><text class="bl" x="719" y="942.2">0.456</text><path class="bm" d="M720.5 943h2"/><text class="lf" x="723" y="944.7">Bvir_Ana6g07836</text></g>
<g id="t121"><text class="bl" x="525" y="951.2">0.11</text><path class="bm" d="M526.5 952h2"/><text class="lf" x="529" y="953.7">Tsa_Tsa4g01384</text></g>
<g id="t122"><text class="bl" x="526" y="958.2">0.0054</text><path class="bm" d="M527.5 959h2"/><text class="lf" x="530" y="960.7">Tsu_Tsa6g00788</text></g>
<g id="t123"><text class="bl" x="546" y="966.2">0.012</text><path class="bm" d="M547.5 967h2"/><text class="lf" x="550" y="968.7">Tsu_Tsa8g00861</text></g>
<g id="t124"><text class="bl" x="568" y="974.2">0.0001</text><path class="bm" d="M569.5 975h2"/><text class="lf" x="572" y="976.7">Ctc_Ctc100000003g00001</text></g>
<g id="t125"><text class="bl" x="586" y="982.2">0.0001</text><path class="bm" d="M587.5 983h2"/><text class="lf" x="590" y="984.7">Ctc_Ctc1000153g00000</text></g>
<g id="t126"><text class="bl" x="600" y="990.2">0.0375</text><path class="bm" d="M601.5 991h2"/><text class="lf" x="604" y="992.7">Ctc_Ctc7g00781</text></g>
<g id="t127"><text class="bl" x="520" y="998.2">0.0311</text><path class="bm" d="M521.5 999h2"/><text class="lf" x="524" y="1000.7">Tsco_Tsco10000007g00007</text></g>
<g id="t128"><text class="bl" x="535" y="1006.2">0.0291</text><path class="bm" d="M536.5 1007h2"/><text class="lf" x="539" y="1008.7">Mcra_Mcra4g00541</text></g>
<g id="t129"><text class="bl" x="533" y="1014.2">0.018</text><path class="bm" d="M534.5 1015h2"/><text class="lf" x="537" y="1016.7">Mcra_Mcra4g00234</text></g>
</g>
<g id="scale-bar">
<path d="M5 1021H25 M5 1019.5V1022.5 M25 1019.5V1022.5" fill="none" stroke="#333" stroke-width="0.8"/>
<text class="lf" x="6" y="1028">0.05</text>
</g>
</svg>
